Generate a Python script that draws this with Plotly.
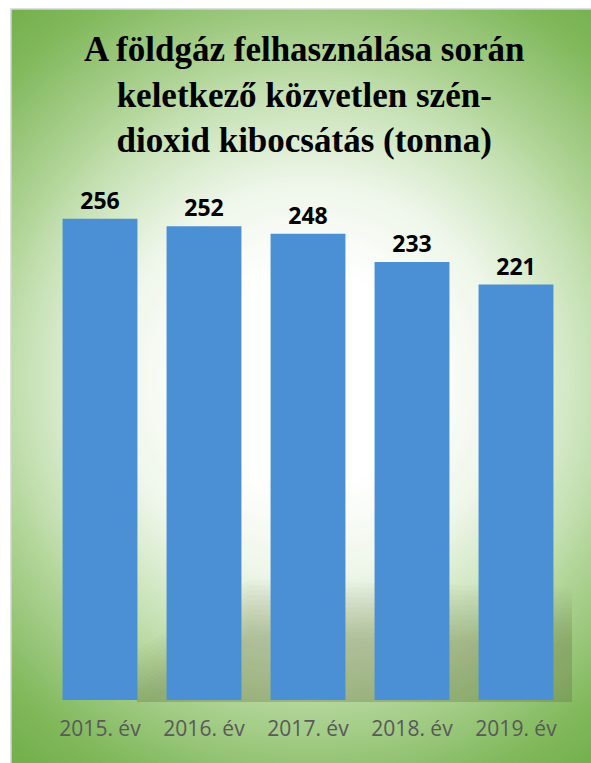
import numpy as np
import plotly.graph_objects as go


# ============================================================
# Data
# ============================================================

years = ["2015. év", "2016. év", "2017. év", "2018. év", "2019. év"]
co2_tonnes = [256, 252, 248, 233, 221]

title_lines = [
    "A földgáz felhasználása során",
    "keletkező közvetlen szén-",
    "dioxid kibocsátás (tonna)",
]


# ============================================================
# Geometry helpers (pixel -> paper coordinates)
# ============================================================

W, H = 591, 763
M_L, M_R, M_T, M_B = 48, 23, 136, 63
PW = W - M_L - M_R
PH = H - M_T - M_B


def px(x):
    return (x - M_L) / PW


def py(y):
    return (H - M_B - y) / PH


def hex_to_rgb(h):
    h = h.lstrip("#")
    return np.array([int(h[i:i + 2], 16) for i in (0, 2, 4)], dtype=float)


# radial background ramp: distance (px) -> colour
ramp_d = [0, 110, 200, 290, 330, 380, 430, 500, 600]
ramp_c = ["#ffffff", "#ffffff", "#eef6e9", "#c5e1b3", "#b0d496",
          "#98c679", "#80b85b", "#70ad47", "#70ad47"]


def ramp(d):
    rgb = [np.interp(d, ramp_d, [hex_to_rgb(c)[k] for c in ramp_c])
           for k in range(3)]
    return "rgb({:.0f},{:.0f},{:.0f})".format(*rgb)


shapes = []

# ------------------------------------------------------------
# Green box with radial gradient
# ------------------------------------------------------------

shapes.append(dict(type="rect", xref="paper", yref="paper",
                   x0=px(11.5), x1=px(W + 2), y0=py(9.5), y1=py(H + 2),
                   fillcolor="#70ad47", line_width=0, layer="below"))

cx, cy = 310, 380
for r in np.arange(520, 100, -4):
    shapes.append(dict(type="circle", xref="paper", yref="paper",
                       xsizemode="pixel", ysizemode="pixel",
                       xanchor=px(cx), yanchor=py(cy),
                       x0=-r, x1=r, y0=-r, y1=r,
                       fillcolor=ramp(r), line_width=0, layer="below"))

# soft shadow behind the lower part of the bars
for off in range(0, 60, 5):
    pts = [(137, 650 + off), (250, 580 + off), (572, 588 + off),
           (572, 702), (137, 702)]
    path = "M " + " L ".join(f"{px(a):.4f},{py(b):.4f}" for a, b in pts) + " Z"
    shapes.append(dict(type="path", xref="paper", yref="paper", path=path,
                       fillcolor="rgba(100,115,90,0.026)", line_width=0,
                       layer="below"))

# white margins outside the box + thin grey frame
shapes.append(dict(type="rect", xref="paper", yref="paper",
                   x0=px(-5), x1=px(11), y0=py(-5), y1=py(H + 5),
                   fillcolor="white", line_width=0, layer="below"))
shapes.append(dict(type="rect", xref="paper", yref="paper",
                   x0=px(-5), x1=px(W + 5), y0=py(-5), y1=py(9),
                   fillcolor="white", line_width=0, layer="below"))
shapes.append(dict(type="rect", xref="paper", yref="paper",
                   x0=px(11), x1=px(W + 5), y0=py(9), y1=py(H + 5),
                   fillcolor="rgba(0,0,0,0)",
                   line=dict(color="#d4d4d4", width=1.5), layer="below"))


# ============================================================
# Figure
# ============================================================

fig = go.Figure()

fig.add_trace(
    go.Bar(
        x=years,
        y=co2_tonnes,
        marker=dict(color="#4b90d4", line_width=0),
        texttemplate="%{y}",
        textposition="outside",
        textfont=dict(family="Open Sans", size=23, color="black",
                      weight="bold"),
        cliponaxis=False,
        hoverinfo="x+y",
    )
)

fig.add_annotation(
    x=px(304), y=py(95),
    xref="paper", yref="paper",
    text="<br>".join(title_lines),
    showarrow=False,
    xanchor="center", yanchor="middle",
    align="center",
    font=dict(family="Liberation Serif", size=35, color="black",
              weight="bold"),
)

fig.update_layout(
    width=W,
    height=H,
    margin=dict(l=M_L, r=M_R, t=M_T, b=M_B, pad=0),
    paper_bgcolor="white",
    plot_bgcolor="rgba(0,0,0,0)",
    bargap=0.28,
    showlegend=False,
    shapes=shapes,
)

fig.update_xaxes(
    showgrid=False, showline=False, zeroline=False, ticks="",
    ticklabelstandoff=14,
    tickfont=dict(family="Open Sans", size=21, color="#595959"),
)

fig.update_yaxes(
    range=[0, 300], visible=False, showgrid=False, zeroline=False,
)

fig.write_html("out.html", config={"displayModeBar": False},
               post_script="document.body.style.margin='0';")
